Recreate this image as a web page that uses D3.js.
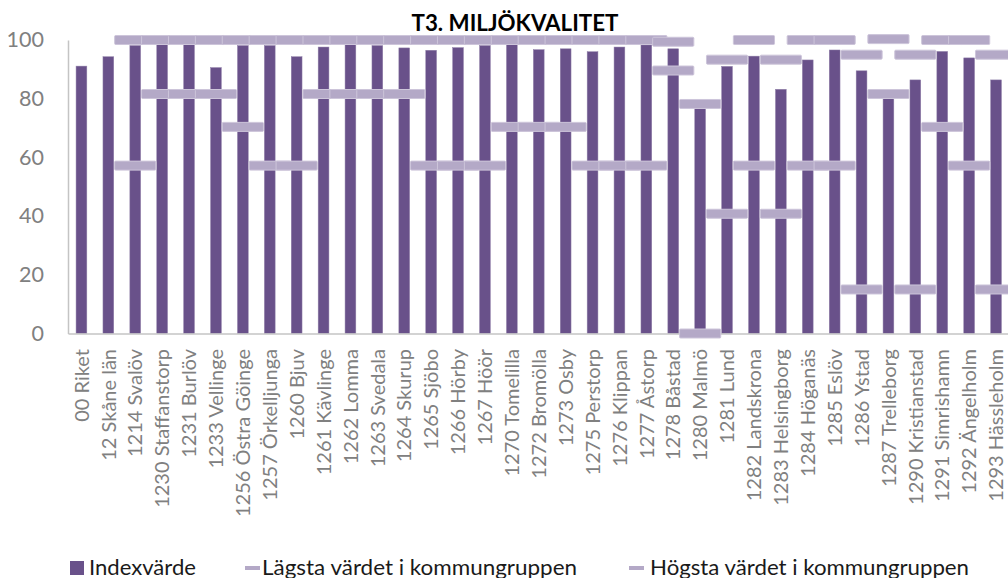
<!DOCTYPE html>
<head>
    <meta charset="utf-8">
    <title>T3. Miljökvalitet</title>
    <script src="https://d3js.org/d3.v7.min.js"></script>
    <style>
        body { margin: 0; background: #fff; }
        text { font-family: Lato, "Open Sans", sans-serif; }
    </style>
</head>
<body>
    <div id="container"></div>
    <script>
        //------------------------DATA------------------------//
        var categories = ["00 Riket", "12 Skåne län", "1214 Svalöv", "1230 Staffanstorp", "1231 Burlöv",
            "1233 Vellinge", "1256 Östra Göinge", "1257 Örkelljunga", "1260 Bjuv", "1261 Kävlinge",
            "1262 Lomma", "1263 Svedala", "1264 Skurup", "1265 Sjöbo", "1266 Hörby", "1267 Höör",
            "1270 Tomelilla", "1272 Bromölla", "1273 Osby", "1275 Perstorp", "1276 Klippan",
            "1277 Åstorp", "1278 Båstad", "1280 Malmö", "1281 Lund", "1282 Landskrona",
            "1283 Helsingborg", "1284 Höganäs", "1285 Eslöv", "1286 Ystad", "1287 Trelleborg",
            "1290 Kristianstad", "1291 Simrishamn", "1292 Ängelholm", "1293 Hässleholm"];

        var indexValues = [91.1, 94.3, 98.1, 98.7, 98.7, 90.6, 98.1, 98.1, 94.3, 97.6,
            98.6, 98.1, 97.3, 96.5, 97.4, 98.1, 98.6, 96.7, 97.0, 96.0,
            97.6, 98.3, 97.0, 78.2, 91.0, 94.5, 83.2, 93.2, 96.6, 89.5,
            81.6, 86.4, 96.1, 93.9, 86.4];

        var minValues = [null, null, 57.2, 81.6, 81.6, 81.6, 70.4, 57.2, 57.2, 81.6,
            81.6, 81.6, 81.6, 57.2, 57.2, 57.2, 70.4, 70.4, 70.4, 57.2,
            57.2, 57.2, 89.6, 0, 40.8, 57.2, 40.8, 57.2, 57.2, 15.0,
            81.6, 15.0, 70.4, 57.2, 15.0];

        var maxValues = [null, null, 100, 100, 100, 100, 100, 100, 100, 100,
            100, 100, 100, 100, 100, 100, 100, 100, 100, 100,
            100, 100, 99.4, 78.2, 93.3, 100, 93.3, 100, 100, 95.0,
            100.3, 95.0, 100, 100, 95.0];

        var yTicks = [0, 20, 40, 60, 80, 100];

        var seriesNames = ["Indexvärde", "Lägsta värdet i kommungruppen", "Högsta värdet i kommungruppen"];

        //------------------------SETUP------------------------//
        var W = 1008, H = 578;
        var barColor = "#69518a",
            markColor = "#b4a9c7",
            axisColor = "#c4c4c4",
            tickColor = "#808080";

        var svg = d3.select("#container").append("svg")
            .attr("width", W).attr("height", H);

        var x = d3.scaleBand()
            .domain(categories)
            .range([68, 68 + 26.9 * categories.length])
            .paddingInner(0.6)
            .paddingOuter(0.3);

        var y = d3.scaleLinear().domain([0, 100]).range([333.5, 40]);

        var step = x.step();
        var markW = step * 1.53, markH = 9;

        //------------------------TITLE------------------------//
        svg.append("text")
            .attr("x", 515).attr("y", 31)
            .attr("text-anchor", "middle")
            .style("font-weight", "bold")
            .style("font-size", "23px")
            .attr("textLength", 207)
            .attr("lengthAdjust", "spacingAndGlyphs")
            .style("fill", "#000")
            .text("T3. MILJÖKVALITET");

        //------------------------AXES------------------------//
        var gy = svg.append("g")
            .attr("transform", "translate(68,0)")
            .call(d3.axisLeft(y).tickValues(yTicks).tickSize(0).tickPadding(24));
        gy.select(".domain").attr("stroke", axisColor).attr("stroke-width", 1.5);
        gy.selectAll("text")
            .style("font-family", "Lato, sans-serif")
            .style("font-size", "21.5px")
            .style("fill", tickColor);

        //------------------------BARS------------------------//
        svg.append("g").selectAll("rect")
            .data(categories)
            .enter().append("rect")
            .attr("x", function (d) { return x(d); })
            .attr("width", x.bandwidth())
            .attr("y", function (d, i) { return y(indexValues[i]); })
            .attr("height", function (d, i) { return y(0) - y(indexValues[i]); })
            .style("fill", barColor)
            .style("stroke", "#8f7fa8")
            .style("stroke-width", 0.5);

        var gx = svg.append("g")
            .attr("transform", "translate(0," + y(0) + ")")
            .call(d3.axisBottom(x).tickSize(0).tickSizeOuter(0));
        gx.select(".domain").attr("stroke", axisColor).attr("stroke-width", 1.5);
        gx.selectAll("text")
            .attr("transform", "rotate(-90)")
            .attr("x", -15.5)
            .attr("y", 0)
            .attr("dy", "0.36em")
            .style("text-anchor", "end")
            .style("font-family", "Lato, sans-serif")
            .style("font-size", "20px")
            .style("fill", tickColor);

        //------------------------MARKERS------------------------//
        function drawMarks(vals) {
            svg.append("g").selectAll("rect")
                .data(categories.filter(function (d, i) { return vals[i] != null; }))
                .enter().append("rect")
                .attr("x", function (d) { return x(d) + x.bandwidth() / 2 - markW / 2; })
                .attr("width", markW)
                .attr("y", function (d) { return y(vals[categories.indexOf(d)]) - markH / 2; })
                .attr("height", markH)
                .attr("rx", 1)
                .style("fill", markColor)
                .style("stroke", "#cdc5da")
                .style("stroke-width", 1);
        }
        drawMarks(minValues);
        drawMarks(maxValues);

        //------------------------LEGEND------------------------//
        var legend = svg.append("g").attr("class", "legend");
        var legX = [70, 245, 629];
        var legTextX = [89, 262, 650];
        var legLen = [107, 315, 319];

        legend.append("rect")
            .attr("x", legX[0]).attr("y", 561)
            .attr("width", 14).attr("height", 14)
            .style("fill", barColor);
        legend.append("rect")
            .attr("x", legX[1]).attr("y", 566)
            .attr("width", 15).attr("height", 4)
            .style("fill", markColor);
        legend.append("rect")
            .attr("x", legX[2]).attr("y", 566)
            .attr("width", 15).attr("height", 4)
            .style("fill", markColor);

        legend.selectAll("text.leg")
            .data(seriesNames)
            .enter().append("text")
            .attr("class", "leg")
            .attr("x", function (d, i) { return legTextX[i]; })
            .attr("y", 574.5)
            .attr("textLength", function (d, i) { return legLen[i]; })
            .attr("lengthAdjust", "spacingAndGlyphs")
            .style("font-size", "21.5px")
            .style("fill", "#1a1a1a")
            .text(function (d) { return d; });
    </script>
</body>
